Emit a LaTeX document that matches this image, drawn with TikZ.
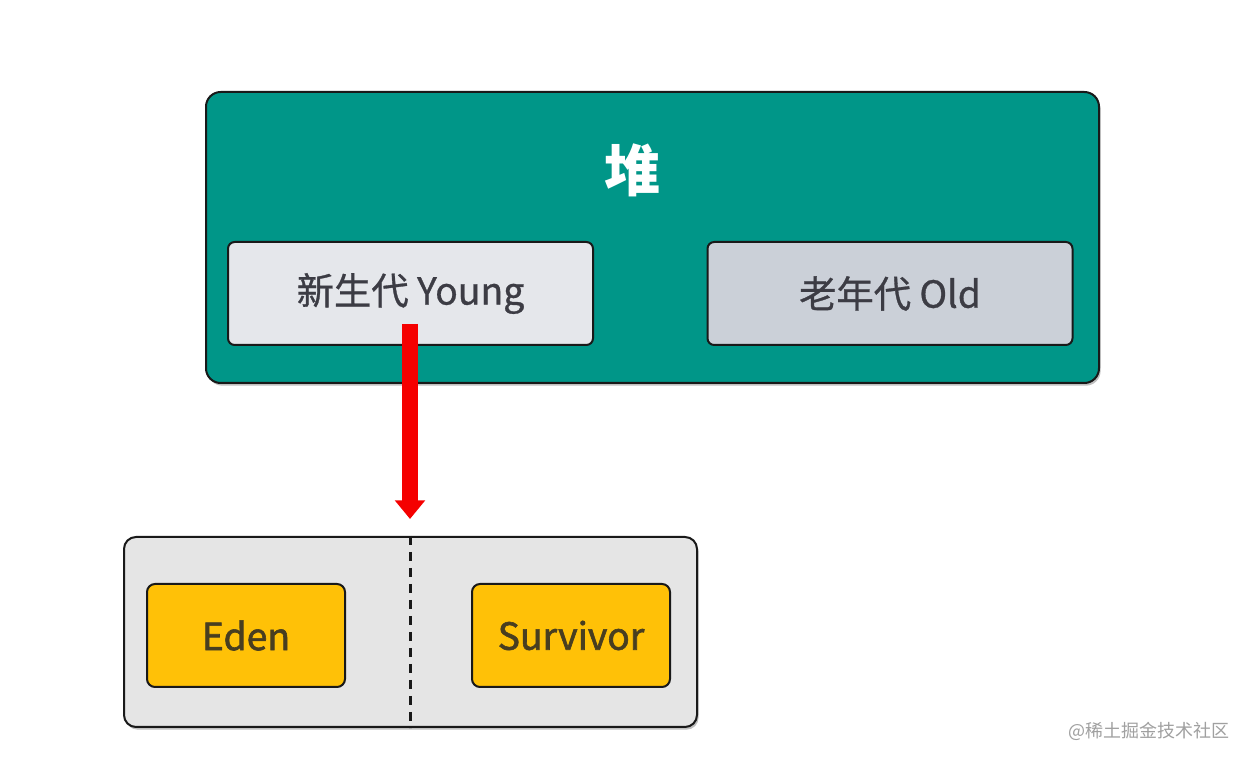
\documentclass[tikz,border=0pt]{standalone}
\usepackage{fontspec}
\setmainfont{Noto Sans CJK SC}
\newfontfamily\cjk{Noto Sans CJK SC}
\newfontfamily\cjkmid[FakeBold=0.8]{Noto Sans CJK SC}
\newfontfamily\cjkmed[FakeBold=1.6]{Noto Sans CJK SC}
\usetikzlibrary{arrows.meta,shadows}
\definecolor{heapteal}{RGB}{0,150,136}
\definecolor{younggray}{RGB}{229,231,235}
\definecolor{oldgray}{RGB}{203,208,216}
\definecolor{boxgray}{RGB}{229,229,229}
\definecolor{amber}{RGB}{255,193,7}
\definecolor{txtdark}{RGB}{60,60,68}
\definecolor{txtbrown}{RGB}{72,62,32}
\definecolor{wmgray}{RGB}{160,160,160}
\definecolor{arrowred}{RGB}{245,0,0}
\tikzset{
  boxbase/.style={draw=black!90, line width=1.5pt, rounded corners=#1, inner sep=0pt},
  heapbox/.style={boxbase=11pt, fill=heapteal, minimum width=893*0.75pt, minimum height=291*0.75pt,
    drop shadow={shadow xshift=1.2pt, shadow yshift=-2pt, opacity=0.25, fill=black}},
  genbox/.style={boxbase=5pt, minimum width=365*0.75pt, minimum height=103*0.75pt,
    text=txtdark, font=\cjkmid\fontsize{28pt}{32pt}\selectfont},
  lowbox/.style={boxbase=9pt, fill=boxgray, minimum width=573*0.75pt, minimum height=190*0.75pt,
    drop shadow={shadow xshift=1.2pt, shadow yshift=-2pt, opacity=0.25, fill=black}},
  areabox/.style={boxbase=6pt, fill=amber, minimum width=198*0.75pt, minimum height=103*0.75pt,
    text=txtbrown, font=\cjkmed\fontsize{28pt}{32pt}\selectfont},
  bigarrow/.style={draw=arrowred, line width=12pt, -{Triangle[width=22pt, length=14pt]}},
  divider/.style={draw=black!90, line width=2pt, dash pattern=on 7pt off 5pt},
}
\begin{document}
\begin{tikzpicture}[x=0.75pt,y=-0.75pt]
\useasboundingbox[fill=white] (0,0) rectangle (1254,762);
% heap
\node[heapbox] (heap) at (652.5,237.5) {};
\node[text=white, font=\cjk\bfseries\fontsize{42pt}{46pt}\selectfont] (heaplabel) at (632,170) {堆};
\node[genbox, fill=younggray] (young) at (410.5,293.5) {新生代 Young};
\node[genbox, fill=oldgray] (old) at (890,293.5) {老年代 Old};
% lower box
\node[lowbox] (low) at (410.5,632) {};
\draw[divider] (low.north) -- (low.south);
\node[areabox] (eden) at (246,635.5) {Eden};
\node[areabox] (surv) at (571,635.5) {Survivor};
% arrow
\coordinate (arrowS) at (410,324);
\coordinate (arrowE) at (410,519);
\draw[bigarrow] (arrowS) -- (arrowE);
% watermark
\node[text=wmgray, font=\cjk\fontsize{13.5pt}{15pt}\selectfont, anchor=east] (wm) at (1234,731) {@稀土掘金技术社区};
\end{tikzpicture}
\end{document}
